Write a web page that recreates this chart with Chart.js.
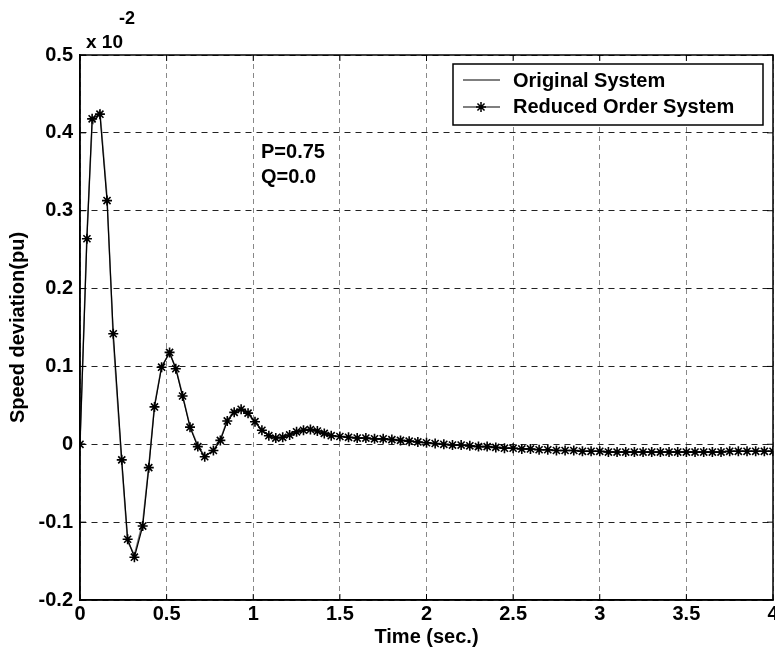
<!DOCTYPE html>
<html>
<head>
<meta charset="utf-8">
<script src="https://cdn.jsdelivr.net/npm/chart.js@4.4.1/dist/chart.umd.min.js"></script>
<style>
  html, body { margin: 0; padding: 0; background: #fff; }
  #wrap { width: 775px; height: 664px; }
</style>
</head>
<body>
<div id="wrap"><canvas id="myChart" width="775" height="664"></canvas></div>
<script>
var timeSec = [0, 0.04, 0.07, 0.115, 0.156, 0.192, 0.241, 0.275, 0.314, 0.362,
    0.397, 0.43, 0.471, 0.517, 0.553, 0.592, 0.635, 0.68, 0.72, 0.77,
    0.81, 0.85, 0.89, 0.93, 0.97, 1.01, 1.05, 1.09, 1.13, 1.17,
    1.21, 1.25, 1.29, 1.33, 1.37, 1.41, 1.45, 1.5,
    1.55, 1.6, 1.65, 1.7, 1.75, 1.8, 1.85, 1.9, 1.95, 2.0,
    2.05, 2.1, 2.15, 2.2, 2.25, 2.3, 2.35, 2.4, 2.45, 2.5,
    2.55, 2.6, 2.65, 2.7, 2.75, 2.8, 2.85, 2.9, 2.95, 3.0,
    3.05, 3.1, 3.15, 3.2, 3.25, 3.3, 3.35, 3.4, 3.45, 3.5,
    3.55, 3.6, 3.65, 3.7, 3.75, 3.8, 3.85, 3.9, 3.95, 4.0];

var originalSys = [0, 0.27, 0.41, 0.428, 0.318, 0.135, -0.025, -0.125, -0.142, -0.1,
    -0.028, 0.05, 0.1, 0.117, 0.098, 0.063, 0.023, -0.002, -0.015, -0.008,
    0.006, 0.031, 0.042, 0.045, 0.039, 0.028, 0.018, 0.011, 0.008, 0.009,
    0.012, 0.016, 0.019, 0.019, 0.017, 0.014, 0.011, 0.010,
    0.009, 0.008, 0.008, 0.007, 0.007, 0.006, 0.005, 0.004, 0.003, 0.002,
    0.001, 0.000, -0.001, -0.001, -0.002, -0.003, -0.003, -0.004, -0.005, -0.005,
    -0.006, -0.006, -0.007, -0.007, -0.008, -0.008, -0.008, -0.009, -0.009, -0.009,
    -0.010, -0.010, -0.010, -0.010, -0.010, -0.010, -0.010, -0.010, -0.010, -0.010,
    -0.010, -0.010, -0.010, -0.010, -0.009, -0.009, -0.009, -0.009, -0.009, -0.009];

var reducedSys = [0, 0.264, 0.418, 0.424, 0.313, 0.142, -0.02, -0.122, -0.145, -0.105,
    -0.03, 0.048, 0.099, 0.118, 0.097, 0.062, 0.022, -0.003, -0.016, -0.008,
    0.005, 0.030, 0.041, 0.045, 0.040, 0.029, 0.018, 0.011, 0.008, 0.009,
    0.012, 0.016, 0.018, 0.019, 0.017, 0.014, 0.011, 0.010,
    0.009, 0.008, 0.008, 0.007, 0.007, 0.006, 0.005, 0.004, 0.003, 0.002,
    0.001, 0.000, -0.001, -0.001, -0.002, -0.003, -0.003, -0.004, -0.005, -0.005,
    -0.006, -0.006, -0.007, -0.007, -0.008, -0.008, -0.008, -0.009, -0.009, -0.009,
    -0.010, -0.010, -0.010, -0.010, -0.010, -0.010, -0.010, -0.010, -0.010, -0.010,
    -0.010, -0.010, -0.010, -0.010, -0.009, -0.009, -0.009, -0.009, -0.009, -0.009];

var xTickLabels = ['0', '0.5', '1', '1.5', '2', '2.5', '3', '3.5', '4'];
var yTickLabels = ['-0.2', '-0.1', '0', '0.1', '0.2', '0.3', '0.4', '0.5'];
var seriesNames = ['Original System', 'Reduced Order System'];
var noteLines = ['P=0.75', 'Q=0.0'];

var FONT = '"Liberation Sans", Arial, sans-serif';

function toPoints(vals) {
    return timeSec.map(function (t, i) { return { x: t, y: vals[i] }; });
}

function drawStar(ctx, x, y, r) {
    var d = r * 0.7071;
    ctx.beginPath();
    ctx.moveTo(x - r, y); ctx.lineTo(x + r, y);
    ctx.moveTo(x, y - r); ctx.lineTo(x, y + r);
    ctx.moveTo(x - d, y - d); ctx.lineTo(x + d, y + d);
    ctx.moveTo(x - d, y + d); ctx.lineTo(x + d, y - d);
    ctx.stroke();
}

// box, inward ticks, exponent, note and legend
var extras = {
    id: 'extras',
    afterDraw: function (chart) {
        var ctx = chart.ctx;
        var a = chart.chartArea;
        var xs = chart.scales.x, ys = chart.scales.y;
        ctx.save();
        ctx.strokeStyle = '#000';
        ctx.lineWidth = 1.5;
        ctx.strokeRect(a.left, a.top, a.right - a.left, a.bottom - a.top);

        ctx.lineWidth = 1;
        xs.ticks.forEach(function (t) {
            var px = xs.getPixelForValue(t.value);
            ctx.beginPath();
            ctx.moveTo(px, a.bottom); ctx.lineTo(px, a.bottom - 6);
            ctx.moveTo(px, a.top); ctx.lineTo(px, a.top + 6);
            ctx.stroke();
        });
        ys.ticks.forEach(function (t) {
            var py = ys.getPixelForValue(t.value);
            ctx.beginPath();
            ctx.moveTo(a.left, py); ctx.lineTo(a.left + 6, py);
            ctx.moveTo(a.right, py); ctx.lineTo(a.right - 6, py);
            ctx.stroke();
        });

        ctx.fillStyle = '#000';
        ctx.textBaseline = 'alphabetic';
        ctx.font = 'bold 19px ' + FONT;
        ctx.fillText('x 10', 86, 48);
        ctx.font = 'bold 18px ' + FONT;
        ctx.fillText('-2', 119, 24);

        ctx.font = 'bold 20px ' + FONT;
        ctx.fillText(noteLines[0], 261, 158);
        ctx.fillText(noteLines[1], 261, 183);

        // legend box
        ctx.fillStyle = '#fff';
        ctx.fillRect(453, 64, 310, 61);
        ctx.lineWidth = 1.5;
        ctx.strokeStyle = '#000';
        ctx.strokeRect(453, 64, 310, 61);
        ctx.lineWidth = 1.2;
        ctx.beginPath();
        ctx.moveTo(463, 80); ctx.lineTo(500, 80);
        ctx.moveTo(463, 107); ctx.lineTo(500, 107);
        ctx.stroke();
        ctx.lineWidth = 1.5;
        drawStar(ctx, 481, 107, 5);
        ctx.fillStyle = '#000';
        ctx.textBaseline = 'middle';
        ctx.fillText(seriesNames[0], 513, 81);
        ctx.fillText(seriesNames[1], 513, 107);
        ctx.restore();
    }
};

var ctx = document.getElementById('myChart');
var myChart = new Chart(ctx, {
    type: 'line',
    data: {
        datasets: [{
            label: seriesNames[0],
            data: toPoints(originalSys),
            borderColor: '#777',
            borderWidth: 1.5,
            pointRadius: 0,
            tension: 0,
            order: 2,
        }, {
            label: seriesNames[1],
            data: toPoints(reducedSys),
            borderColor: '#000',
            borderWidth: 1.2,
            pointStyle: 'star',
            pointRadius: 5,
            pointBorderWidth: 1.6,
            pointBorderColor: '#000',
            pointBackgroundColor: '#000',
            tension: 0,
            order: 1,
        }],
    },
    options: {
        responsive: false,
        animation: false,
        events: [],
        layout: {
            autoPadding: false,
            padding: { left: 0, right: 2, top: 55, bottom: 0 },
        },
        plugins: {
            legend: { display: false },
            tooltip: { enabled: false },
        },
        scales: {
            x: {
                type: 'linear',
                min: 0,
                max: 4,
                ticks: {
                    stepSize: 0.5,
                    padding: 2,
                    color: '#000',
                    maxRotation: 0,
                    font: { family: FONT, size: 20, weight: 'bold' },
                    callback: function (v) { return xTickLabels[Math.round(v / 0.5)]; },
                },
                grid: { color: '#888', lineWidth: 1, drawTicks: false },
                border: { color: '#000', width: 1.5, dash: [5, 4] },
                title: {
                    display: true,
                    text: 'Time (sec.)',
                    color: '#000',
                    font: { family: FONT, size: 20, weight: 'bold' },
                    padding: { top: 0, bottom: 15 },
                },
                afterFit: function (s) {
                    s.height = 64;
                    s.paddingLeft = 0;
                    s.paddingRight = 0;
                },
            },
            y: {
                min: -0.2,
                max: 0.5,
                ticks: {
                    stepSize: 0.1,
                    padding: 7,
                    color: '#000',
                    font: { family: FONT, size: 20, weight: 'bold' },
                    callback: function (v) { return yTickLabels[Math.round((v + 0.2) / 0.1)]; },
                },
                grid: { color: '#222', lineWidth: 1, drawTicks: false },
                border: { color: '#000', width: 1.5, dash: [6, 5] },
                title: {
                    display: true,
                    text: 'Speed deviation(pu)',
                    color: '#000',
                    font: { family: FONT, size: 20, weight: 'bold' },
                    padding: { top: 6, bottom: 0 },
                },
                afterFit: function (s) {
                    s.width = 80;
                    s.paddingTop = 0;
                    s.paddingBottom = 0;
                },
            },
        },
    },
    plugins: [extras],
});
</script>
</body>
</html>
